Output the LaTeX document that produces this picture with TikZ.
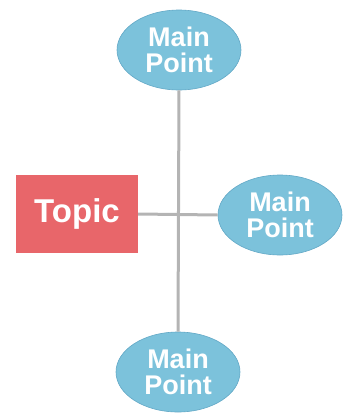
\documentclass[tikz,border=0pt]{standalone}
\usepackage{fontspec}
\setmainfont{Liberation Sans}
\usetikzlibrary{shapes.geometric}
\definecolor{pointblue}{RGB}{124,194,219}
\definecolor{pointedge}{RGB}{98,168,198}
\definecolor{topicred}{RGB}{232,102,106}
\definecolor{linegray}{RGB}{180,180,180}
\tikzset{
    point/.style={ellipse,fill=pointblue,draw=pointedge,line width=.6pt,
        minimum width=124pt,minimum height=80pt,inner sep=0pt,align=center,
        text=white,font=\fontsize{27}{25.5}\selectfont\bfseries},
    topic/.style={rectangle,fill=topicred,minimum width=122pt,minimum height=78pt,
        text=white,font=\fontsize{33}{33}\selectfont\bfseries},
    link/.style={draw=linegray,line width=3pt}
}
\begin{document}
\begin{tikzpicture}[x=1pt,y=-1pt,line cap=butt]
    \useasboundingbox (0,0) rectangle (357,413);
    \node[topic] (topic) at (77,214) {Topic};
    \node[point] (ptop) at (179,50) {Main\\Point};
    \node[point] (pright) at (280,215) {Main\\Point};
    \node[point] (pbottom) at (178,372) {Main\\Point};
    % spokes
    \draw[link] (ptop.south) -- (pbottom.north);
    \draw[link] (topic.east) -- (pright.west);
\end{tikzpicture}
\end{document}
